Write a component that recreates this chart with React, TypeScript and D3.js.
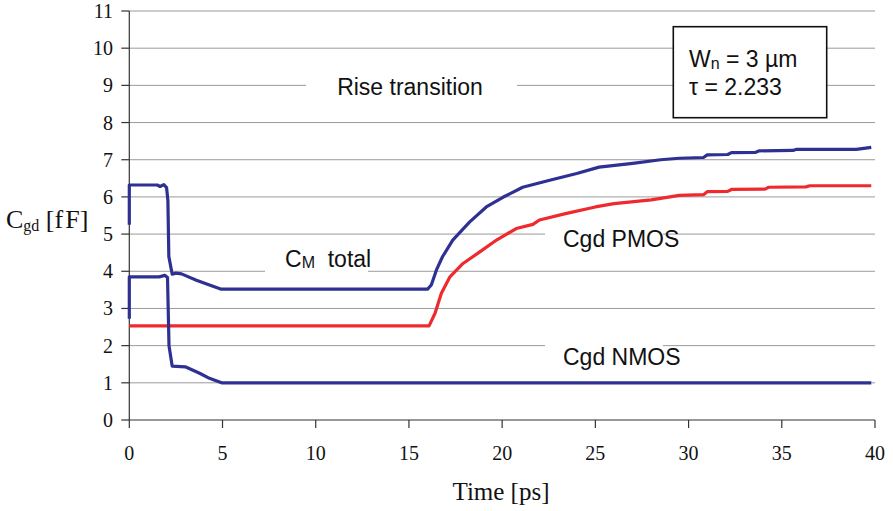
import * as d3 from 'd3';

// C_M total (upper blue curve)
const cmTotalTime = [0, 0, 1.5, 1.65, 1.85, 2.0, 2.07, 2.12, 2.3, 2.5, 2.8, 3.6, 4.15, 4.9, 16.0, 16.2, 16.47, 16.8, 17.35, 18.26, 19.15, 20.04, 21.1, 22.55, 24, 25.2, 27, 28.5, 29.5, 30.8, 31, 32.1, 32.3, 33.6, 33.8, 35.6, 35.8, 39, 39.8];
const cmTotalCap = [5.25, 6.32, 6.32, 6.28, 6.33, 6.25, 5.9, 4.4, 3.92, 3.95, 3.93, 3.76, 3.66, 3.52, 3.52, 3.63, 4.03, 4.39, 4.84, 5.33, 5.73, 5.99, 6.26, 6.45, 6.63, 6.8, 6.9, 7.0, 7.04, 7.06, 7.13, 7.14, 7.19, 7.2, 7.24, 7.25, 7.28, 7.28, 7.33];

// Cgd NMOS (lower blue curve)
const nmosTime = [0, 0, 1.6, 1.9, 2.05, 2.13, 2.3, 3.0, 3.8, 4.3, 4.95, 39.8];
const nmosCap = [2.72, 3.85, 3.85, 3.89, 3.83, 2.0, 1.45, 1.43, 1.25, 1.12, 1.0, 1.0];

// Cgd PMOS (red curve)
const pmosTime = [0, 16.08, 16.4, 16.74, 17.2, 17.9, 18.8, 19.7, 20.76, 21.65, 22.0, 23.4, 25, 26, 28, 29.5, 30.8, 31, 32.1, 32.3, 34.1, 34.3, 36.3, 36.5, 39.8];
const pmosCap = [2.53, 2.53, 2.87, 3.41, 3.85, 4.21, 4.52, 4.84, 5.15, 5.26, 5.38, 5.55, 5.73, 5.82, 5.92, 6.04, 6.06, 6.14, 6.15, 6.2, 6.21, 6.26, 6.27, 6.3, 6.3];

const xTicks = [0, 5, 10, 15, 20, 25, 30, 35, 40];
const yTicks = [0, 1, 2, 3, 4, 5, 6, 7, 8, 9, 10, 11];

const W = 893;
const H = 511;
const serif = '"Liberation Serif", "Times New Roman", serif';
const sans = '"Liberation Sans", Arial, sans-serif';

export default function App() {
  const x = d3.scaleLinear().domain([0, 40]).range([129.3, 875]);
  const y = d3.scaleLinear().domain([0, 11]).range([420, 11]);

  const line = d3
    .line<[number, number]>()
    .x((d) => x(d[0]))
    .y((d) => y(d[1]));

  const zip = (a: number[], b: number[]) => a.map((v, i) => [v, b[i]] as [number, number]);

  const blue = '#2e3192';
  const red = '#ee2a2e';
  const axisColor = '#333';

  return (
    <div style={{ position: 'absolute', left: 0, top: 0 }}>
      <svg width={W} height={H} style={{ display: 'block', background: '#fff' }}>
        {/* gridlines */}
        {yTicks.slice(1).map((t) => (
          <line key={t} x1={x(0)} x2={x(40)} y1={y(t)} y2={y(t)} stroke="#9a9a9a" strokeWidth={1} />
        ))}

        {/* label backgrounds */}
        <rect x={306} y={72} width={211} height={26} fill="#fff" />
        <rect x={265} y={262} width={103} height={14} fill="#fff" />
        <rect x={545} y={229} width={118} height={12} fill="#fff" />
        <rect x={545} y={341} width={118} height={12} fill="#fff" />

        {/* axes */}
        <line x1={x(0)} x2={x(0)} y1={y(11)} y2={y(0)} stroke={axisColor} strokeWidth={1.2} />
        <line x1={x(0)} x2={x(40)} y1={y(0)} y2={y(0)} stroke={axisColor} strokeWidth={1.2} />
        {yTicks.map((t) => (
          <g key={t}>
            <line x1={x(0) - 8} x2={x(0)} y1={y(t)} y2={y(t)} stroke={axisColor} strokeWidth={1.2} />
            <text x={113} y={y(t) + 7} textAnchor="end" fontFamily={serif} fontSize={20} fill="#111">
              {t}
            </text>
          </g>
        ))}
        {xTicks.map((t) => (
          <g key={t}>
            <line x1={x(t)} x2={x(t)} y1={y(0)} y2={y(0) + 8} stroke={axisColor} strokeWidth={1.2} />
            <text x={x(t)} y={460} textAnchor="middle" fontFamily={serif} fontSize={20} fill="#111">
              {t}
            </text>
          </g>
        ))}

        {/* axis titles */}
        <text x={501} y={500} textAnchor="middle" fontFamily={serif} fontSize={25} fill="#111">
          Time [ps]
        </text>
        <text x={6} y={228} fontFamily={serif} fontSize={26} fill="#111">
          C
          <tspan fontSize={16} dy={3}>gd</tspan>
          <tspan dy={-3}> [f</tspan>
          <tspan dx={2}>F]</tspan>
        </text>

        {/* curves */}
        <path d={line(zip(pmosTime, pmosCap)) ?? ''} fill="none" stroke={red} strokeWidth={3.2} strokeLinejoin="round" />
        <path d={line(zip(nmosTime, nmosCap)) ?? ''} fill="none" stroke={blue} strokeWidth={3.2} strokeLinejoin="round" />
        <path d={line(zip(cmTotalTime, cmTotalCap)) ?? ''} fill="none" stroke={blue} strokeWidth={3.2} strokeLinejoin="round" />

        {/* annotations */}
        <text x={410} y={95} textAnchor="middle" fontFamily={sans} fontSize={23} fill="#111">
          Rise transition
        </text>
        <text x={285} y={267} fontFamily={sans} fontSize={23} fill="#111">
          C
          <tspan fontSize={16} dy={1}>M</tspan>
          <tspan dy={-1}>{'\u00a0 total'}</tspan>
        </text>
        <text x={563} y={247} fontFamily={sans} fontSize={23} fill="#111">
          Cgd PMOS
        </text>
        <text x={563} y={365} fontFamily={sans} fontSize={23} fill="#111">
          Cgd NMOS
        </text>

        {/* parameter box */}
        <rect x={673.3} y={26.7} width={153.4} height={91} fill="#fff" stroke="#111" strokeWidth={1.6} />
        <text x={689} y={67} fontFamily={sans} fontSize={23} fill="#111">
          W
          <tspan fontSize={16} dy={2}>n</tspan>
          <tspan dy={-2}> = 3 µm</tspan>
        </text>
        <text x={689} y={95} fontFamily={sans} fontSize={23} fill="#111">
          τ = 2.233
        </text>
      </svg>
    </div>
  );
}
